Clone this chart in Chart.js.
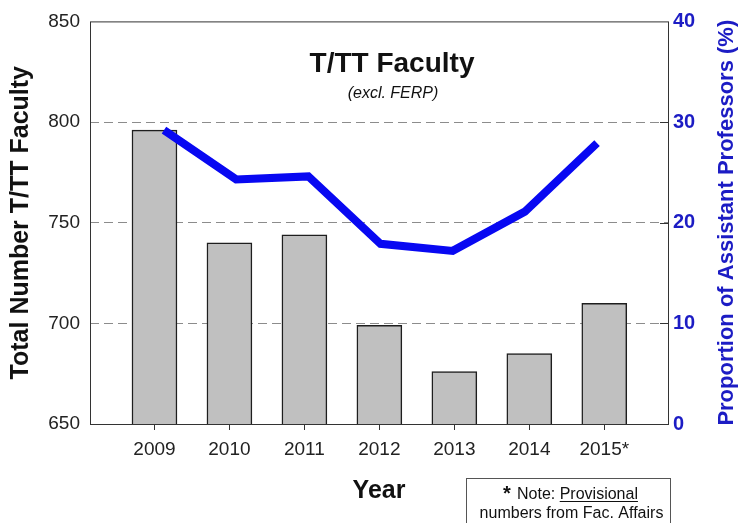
<!DOCTYPE html>
<html>
<head>
<meta charset="utf-8">
<script src="https://cdn.jsdelivr.net/npm/chart.js@4.4.1/dist/chart.umd.min.js"></script>
<style>
  html, body { margin: 0; padding: 0; background: #fff; }
  #wrap { width: 738px; height: 523px; }
</style>
</head>
<body>
<div id="wrap"><canvas id="myChart" width="738" height="523"></canvas></div>
<script>
const years = ['2009', '2010', '2011', '2012', '2013', '2014', '2015*'];
const facultyCount = [796, 740, 744, 699, 676, 685, 710];
const asstProfPct = [29.2, 24.3, 24.6, 17.9, 17.2, 21.1, 27.9];
const leftTicks = [650, 700, 750, 800, 850];
const rightTicks = [0, 10, 20, 30, 40];

const FONT = "'Liberation Sans', Arial, sans-serif";
const BLUE = '#1c1cc4';

// frame, titles and the note box
const decor = {
    id: 'decor',
    afterDatasetsDraw(chart) {
        const ctx = chart.ctx;
        const a = chart.chartArea;
        const y1 = chart.scales.y1;
        ctx.save();
        ctx.strokeStyle = '#333';
        ctx.lineWidth = 1;
        ctx.strokeRect(a.left + 0.5, a.top + 0.5, a.right - a.left, a.bottom - a.top);
        // inward tick marks on the right axis
        rightTicks.forEach(function(v) {
            if (v === 0 || v === 40) return;
            const py = Math.round(y1.getPixelForValue(v)) + 0.5;
            ctx.beginPath();
            ctx.moveTo(a.right - 8, py);
            ctx.lineTo(a.right, py);
            ctx.stroke();
        });

        ctx.fillStyle = '#111';
        ctx.textAlign = 'center';
        ctx.textBaseline = 'alphabetic';
        ctx.font = 'bold 28px ' + FONT;
        ctx.fillText('T/TT Faculty', 392, 72);
        ctx.font = 'italic 16px ' + FONT;
        ctx.fillText('(excl. FERP)', 393, 98);

        // right axis title, reads bottom to top
        ctx.save();
        ctx.translate(727, (a.top + a.bottom) / 2);
        ctx.rotate(-Math.PI / 2);
        ctx.fillStyle = BLUE;
        ctx.font = 'bold 22px ' + FONT;
        ctx.textBaseline = 'middle';
        ctx.fillText('Proportion of Assistant Professors (%)', 0, 0);
        ctx.restore();

        // note box
        ctx.strokeStyle = '#555';
        ctx.strokeRect(466.5, 478.5, 204, 60);
        ctx.fillStyle = '#111';
        ctx.textAlign = 'left';
        ctx.font = 'bold 20px ' + FONT;
        ctx.fillText('*', 503, 500);
        ctx.font = '16px ' + FONT;
        ctx.fillText('Note: ', 517, 499);
        const nx = 517 + ctx.measureText('Note: ').width;
        ctx.fillText('Provisional', nx, 499);
        const pw = ctx.measureText('Provisional').width;
        ctx.fillRect(nx, 501, pw, 1);
        ctx.textAlign = 'center';
        ctx.fillText('numbers from Fac. Affairs', 571.5, 518);
        ctx.restore();
    }
};

new Chart(document.getElementById('myChart'), {
    type: 'bar',
    data: {
        datasets: [{
            type: 'line',
            label: 'Proportion of Assistant Professors (%)',
            data: asstProfPct.map((v, i) => ({x: i, y: v})),
            xAxisID: 'x2',
            yAxisID: 'y1',
            borderColor: '#0808f2',
            borderWidth: 8,
            borderJoinStyle: 'miter',
            borderCapStyle: 'butt',
            pointRadius: 0,
            tension: 0,
            fill: false,
            order: 0
        }, {
            label: 'Total Number T/TT Faculty',
            data: facultyCount.map((v, i) => ({x: i, y: v})),
            xAxisID: 'x',
            yAxisID: 'y',
            backgroundColor: '#c0c0c0',
            borderColor: '#1e1e1e',
            borderWidth: 1.5,
            grouped: false,
            barThickness: 45,
            maxBarThickness: 45,
            order: 1
        }]
    },
    options: {
        responsive: false,
        animation: false,
        layout: { padding: { top: 19, left: 0, right: 0, bottom: 0 } },
        plugins: {
            legend: { display: false },
            tooltip: { enabled: false }
        },
        scales: {
            x: {
                type: 'linear',
                position: 'bottom',
                offset: false,
                min: -0.86,
                max: 6.85,
                afterBuildTicks: function(scale) {
                    scale.ticks = years.map((_, i) => ({value: i}));
                },
                afterFit: function(scale) { scale.height = 99; },
                grid: { offset: false, drawOnChartArea: false, drawTicks: true, tickLength: 6, color: '#333' },
                border: { display: false },
                ticks: {
                    color: '#222',
                    font: { family: FONT, size: 19 },
                    padding: 8,
                    maxRotation: 0,
                    autoSkip: false,
                    callback: function(v) { return years[v]; }
                },
                title: {
                    display: true,
                    text: 'Year',
                    color: '#111',
                    font: { family: FONT, size: 25, weight: 'bold' },
                    padding: { top: 0, bottom: 17 }
                }
            },
            x2: {
                type: 'linear',
                display: false,
                offset: false,
                min: -1.025,
                max: 6.983
            },
            y: {
                position: 'left',
                min: 650,
                max: 850,
                afterBuildTicks: function(scale) {
                    scale.ticks = leftTicks.map(v => ({value: v}));
                },
                afterFit: function(scale) { scale.width = 90; },
                grid: {
                    drawTicks: false,
                    color: function(c) {
                        const v = c.tick && c.tick.value;
                        return (v === 650 || v === 850) ? 'rgba(0,0,0,0)' : '#8c8c8c';
                    }
                },
                border: { display: false, dash: [9, 5] },
                ticks: {
                    color: '#222',
                    font: { family: FONT, size: 19 },
                    padding: 10
                },
                title: {
                    display: true,
                    text: 'Total Number T/TT Faculty',
                    color: '#111',
                    font: { family: FONT, size: 25, weight: 'bold' },
                    padding: { top: 6, bottom: 0 }
                }
            },
            y1: {
                position: 'right',
                min: 0,
                max: 40,
                afterBuildTicks: function(scale) {
                    scale.ticks = rightTicks.map(v => ({value: v}));
                },
                afterFit: function(scale) { scale.width = 70; },
                grid: { drawOnChartArea: false, drawTicks: false },
                border: { display: false },
                ticks: {
                    color: BLUE,
                    font: { family: FONT, size: 20, weight: 'bold' },
                    padding: 5
                }
            }
        }
    },
    plugins: [decor]
});
</script>
</body>
</html>
